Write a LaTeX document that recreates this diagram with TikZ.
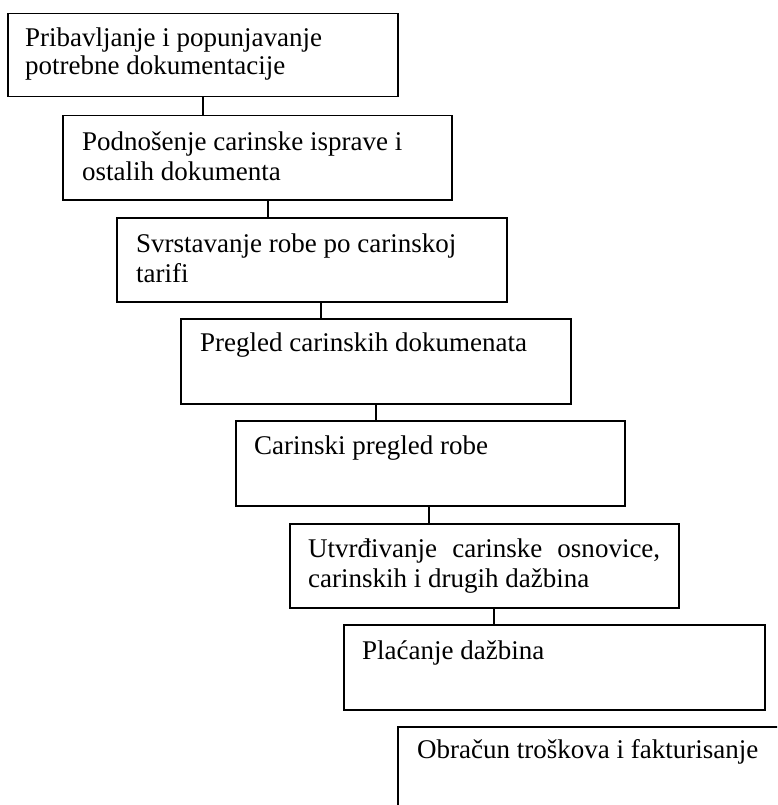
\documentclass[tikz,border=0pt]{standalone}
\usepackage{fontspec}
\setmainfont{Liberation Serif}
\begin{document}
\begin{tikzpicture}[x=1pt,y=-1pt,
  box/.style={draw=black,line width=1.5pt,rectangle,inner sep=0pt,anchor=north west},
  link/.style={draw=black,line width=1.1pt},
  txt/.style={anchor=base west,inner sep=0pt,font=\fontsize{27}{30}\selectfont}]
\useasboundingbox (0,0) rectangle (777,805);
\clip (0,0) rectangle (777,805);
% boxes
\node[box,minimum width=390pt,minimum height=83pt] (b1) at (7,13) {};
\node[box,minimum width=389pt,minimum height=84pt] (b2) at (62,115) {};
\node[box,minimum width=390pt,minimum height=84pt] (b3) at (116,217) {};
\node[box,minimum width=390pt,minimum height=85pt] (b4) at (180,318) {};
\node[box,minimum width=389pt,minimum height=85pt] (b5) at (235,420) {};
\node[box,minimum width=389pt,minimum height=84pt] (b6) at (289,523) {};
\node[box,minimum width=421pt,minimum height=85pt] (b7) at (343,624) {};
\node[box,minimum width=430pt,minimum height=110pt] (b8) at (397,726) {};
% texts
\node[txt] (t1a) at (25,47) {Pribavljanje i popunjavanje};
\node[txt] (t1b) at (25,75) {potrebne dokumentacije};
\node[txt] (t2a) at (82,151) {Podnošenje carinske isprave i};
\node[txt] (t2b) at (82,180) {ostalih dokumenta};
\node[txt] (t3a) at (136,252) {Svrstavanje robe po carinskoj};
\node[txt] (t3b) at (136,282) {tarifi};
\node[txt] (t4) at (200,351) {Pregled carinskih dokumenata};
\node[txt] (t5) at (254,454) {Carinski pregled robe};
\node[txt] (t6a) at (308,557) {\hbox to 352pt{Utvrđivanje\hfill carinske\hfill osnovice,}};
\node[txt] (t6b) at (308,587) {carinskih i drugih dažbina};
\node[txt] (t7) at (362,659) {Plaćanje dažbina};
\node[txt] (t8) at (417,758) {Obračun troškova i fakturisanje};
% connectors
\draw[link] ([xshift=196pt]b1.south west) coordinate (c1) -- (c1 |- b2.north);
\draw[link] ([xshift=206pt]b2.south west) coordinate (c2) -- (c2 |- b3.north);
\draw[link] ([xshift=205pt]b3.south west) coordinate (c3) -- (c3 |- b4.north);
\draw[link] ([xshift=196pt]b4.south west) coordinate (c4) -- (c4 |- b5.north);
\draw[link] ([xshift=194pt]b5.south west) coordinate (c5) -- (c5 |- b6.north);
\draw[link] ([xshift=205pt]b6.south west) coordinate (c6) -- (c6 |- b7.north);
\end{tikzpicture}
\end{document}
